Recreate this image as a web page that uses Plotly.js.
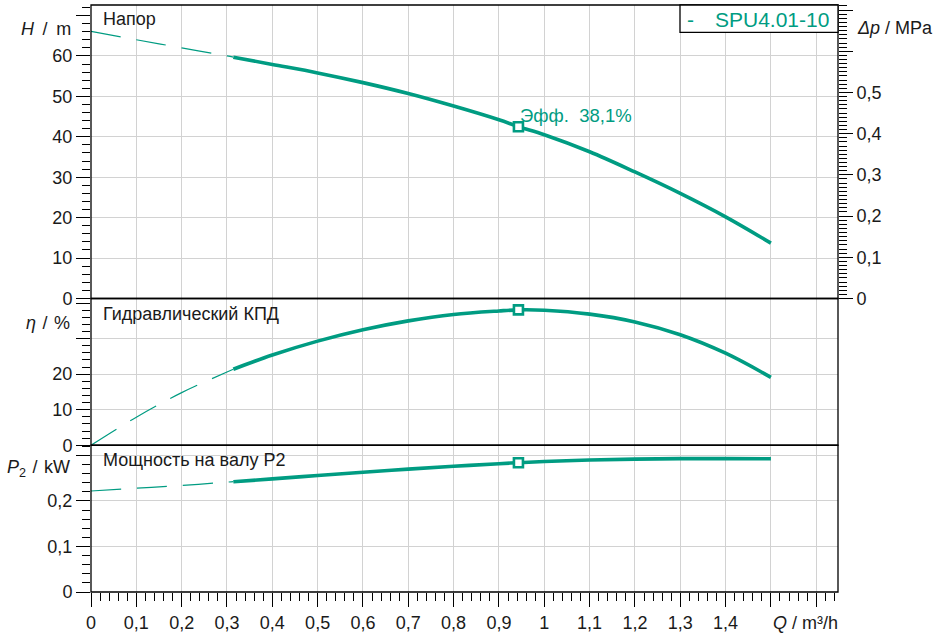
<!DOCTYPE html>
<html><head><meta charset="utf-8">
<script src="https://cdn.plot.ly/plotly-3.0.1.min.js"></script>
<style>body{margin:0;padding:0;background:#fff}#chart{width:933px;height:634px}</style>
</head><body><div id="chart"></div>
<script>
// ---- data ----
const flowDashed  = [0, 0.1, 0.2, 0.3, 0.314];
const headDashed  = [66.1, 64.0, 62.0, 60.0, 59.7];
const effDashed   = [0, 7.9, 14.8, 20.6, 21.4];
const powerDashed = [0.222, 0.228, 0.234, 0.2415, 0.2424];

const flow       = [0.314, 0.4, 0.5, 0.6, 0.7, 0.8, 0.9, 0.943, 1.0, 1.1, 1.2, 1.3, 1.4, 1.5];
const head       = [59.7, 57.9, 55.8, 53.4, 50.7, 47.6, 44.2, 42.5, 40.5, 36.3, 31.3, 26.0, 20.2, 13.7];
const efficiency = [21.4, 25.4, 29.3, 32.5, 35.0, 36.8, 37.8, 38.1, 38.0, 36.9, 34.7, 31.1, 25.9, 19.1];
const power      = [0.2424, 0.2485, 0.2560, 0.2632, 0.2700, 0.2763, 0.2820, 0.2842, 0.2867, 0.2900, 0.2920, 0.2930, 0.2932, 0.2927];

const dutyFlow  = [0.943];
const dutyHead  = [42.5];
const dutyEff   = [38.1];
const dutyPower = [0.2842];

const xTickVals = [0, 0.1, 0.2, 0.3, 0.4, 0.5, 0.6, 0.7, 0.8, 0.9, 1.0, 1.1, 1.2, 1.3, 1.4, 1.5, 1.6];
const xTickText = ["0", "0,1", "0,2", "0,3", "0,4", "0,5", "0,6", "0,7", "0,8", "0,9", "1", "1,1", "1,2", "1,3", "1,4", "", ""];
const hTickVals = [0, 10, 20, 30, 40, 50, 60];
const hTickText = ["0", "10", "20", "30", "40", "50", "60"];
const hExtraTicks = [70];
const pTickVals = [0, 0.1, 0.2, 0.3, 0.4, 0.5, 0.6, 0.7];
const pTickText = ["0", "0,1", "0,2", "0,3", "0,4", "0,5", "", ""];
const eTickVals = [0, 10, 20, 30];
const eTickText = ["0", "10", "20", ""];
const eExtraTicks = [40];
const wTickVals = [0, 0.1, 0.2, 0.3];
const wTickText = ["0", "0,1", "0,2", ""];

const seriesName = "SPU4.01-10";
const dutyLabel = "Эфф.\u00a0\u00a038,1%";
const MPA_PER_M = 0.00981;

// ---- style ----
const TEAL = "#009c82";
const FONT = "Liberation Sans, Arial, sans-serif";
const GRID = "#d2d2d2";
const HEAD_MAX = 72.6, EFF_MAX = 41.3, POW_MAX = 0.3225, Q_MAX = 1.648;

function solid(x, y, ya) {
  return {x: x, y: y, yaxis: ya, xaxis: "x", mode: "lines", type: "scatter",
    line: {color: TEAL, width: 3.6, shape: "spline", smoothing: 1}, hoverinfo: "skip", showlegend: false};
}
function dashed(x, y, ya) {
  return {x: x, y: y, yaxis: ya, xaxis: "x", mode: "lines", type: "scatter",
    line: {color: TEAL, width: 1.2, dash: "30px,16px", shape: "spline"}, hoverinfo: "skip", showlegend: false};
}
function duty(x, y, ya) {
  return {x: x, y: y, yaxis: ya, xaxis: "x", mode: "markers", type: "scatter",
    marker: {symbol: "square", size: 9, color: "#fff", line: {color: TEAL, width: 2.6}},
    hoverinfo: "skip", showlegend: false};
}
// invisible carrier traces so that the overlay axes (pressure scale, extra ticks) are drawn
function carrier(x, y, ya) {
  return {x: x, y: y, yaxis: ya, xaxis: "x", mode: "lines", type: "scatter",
    line: {color: "rgba(0,0,0,0)", width: 0}, hoverinfo: "skip", showlegend: false};
}

const data = [
  carrier(flow, head.map(h => h * MPA_PER_M), "y4"),
  carrier(flow, head, "y5"),
  carrier(flow, efficiency, "y6"),
  dashed(flowDashed, headDashed, "y"), solid(flow, head, "y"),
  dashed(flowDashed, effDashed, "y2"), solid(flow, efficiency, "y2"),
  dashed(flowDashed, powerDashed, "y3"), solid(flow, power, "y3"),
  duty(dutyFlow, dutyHead, "y"), duty(dutyFlow, dutyEff, "y2"), duty(dutyFlow, dutyPower, "y3")
];

const tickFont = {family: FONT, size: 18, color: "#1a1a1a"};
const minorTicks = d => ({tickmode: "linear", tick0: 0, dtick: d, ticks: "outside", ticklen: 8, tickwidth: 1, tickcolor: "#000", showgrid: false});
function yAxis(domain, range, vals, text, minorDtick) {
  return {domain: domain, range: range, anchor: "x", tickmode: "array", tickvals: vals, ticktext: text,
    ticks: "outside", ticklen: 14, tickwidth: 1, tickcolor: "#000", tickfont: tickFont,
    showgrid: true, gridcolor: GRID, gridwidth: 1, zeroline: false, showline: false,
    minor: minorTicks(minorDtick), fixedrange: true};
}
function extraAxis(over, range, vals) {
  return {overlaying: over, range: range, anchor: "x", side: "left", tickmode: "array", tickvals: vals,
    ticks: "outside", ticklen: 14, tickwidth: 1, tickcolor: "#000",
    showgrid: false, zeroline: false, showline: false, showticklabels: false, fixedrange: true};
}

function ann(text, x, y, xanchor, opts) {
  return Object.assign({text: text, x: x, y: y, xref: "paper", yref: "paper", xanchor: xanchor, yanchor: "middle",
    showarrow: false, font: {family: FONT, size: 18, color: "#1a1a1a"}}, opts || {});
}
const px = v => (v - 91) / 747;
const py = v => (592 - v) / 587;

const layout = {
  width: 933, height: 634,
  margin: {l: 91, r: 95, t: 5, b: 42, pad: 0},
  paper_bgcolor: "#fff", plot_bgcolor: "#fff",
  showlegend: false,
  xaxis: {domain: [0, 1], range: [0, Q_MAX], anchor: "y3", tickmode: "array", tickvals: xTickVals, ticktext: xTickText,
    ticks: "outside", ticklen: 14, tickwidth: 1, tickcolor: "#000", tickfont: tickFont,
    showgrid: true, gridcolor: GRID, gridwidth: 1, zeroline: false, showline: false,
    minor: minorTicks(0.02), fixedrange: true},
  yaxis:  yAxis([0.5, 1], [0, HEAD_MAX], hTickVals, hTickText, 2),
  yaxis2: yAxis([0.25, 0.5], [0, EFF_MAX], eTickVals, eTickText, 2),
  yaxis3: yAxis([0, 0.25], [0, POW_MAX], wTickVals, wTickText, 0.02),
  yaxis4: {overlaying: "y", side: "right", anchor: "x", range: [0, HEAD_MAX * MPA_PER_M], tickmode: "array",
    tickvals: pTickVals, ticktext: pTickText, ticks: "outside", ticklen: 14, tickwidth: 1, tickcolor: "#000",
    tickfont: tickFont, showgrid: false, zeroline: false, showline: false,
    minor: minorTicks(0.01), fixedrange: true},
  yaxis5: extraAxis("y", [0, HEAD_MAX], hExtraTicks),
  yaxis6: extraAxis("y2", [0, EFF_MAX], eExtraTicks),
  shapes: [
    {type: "rect", xref: "paper", yref: "y domain", x0: 0, x1: 1, y0: 0, y1: 1, line: {color: "#000", width: 1.3}, layer: "above"},
    {type: "rect", xref: "paper", yref: "y2 domain", x0: 0, x1: 1, y0: 0, y1: 1, line: {color: "#000", width: 1.3}, layer: "above"},
    {type: "rect", xref: "paper", yref: "y3 domain", x0: 0, x1: 1, y0: 0, y1: 1, line: {color: "#000", width: 1.3}, layer: "above"},
    {type: "rect", xref: "paper", yref: "paper", x0: px(680), x1: 1, y0: py(32.3), y1: 1, fillcolor: "#fff", line: {color: "#000", width: 1.3}, layer: "above"}
  ],
  annotations: [
    ann("Напор", px(101), py(19), "left"),
    ann("Гидравлический КПД", px(101), py(313.5), "left"),
    ann("Мощность на валу P2", px(101), py(460), "left"),
    ann("<i>H</i>\u2009 / \u2009m", px(73), py(29), "right"),
    ann("<i>η</i>\u200a / \u200a%", px(72), py(323), "right"),
    ann("<i>P</i><sub>2</sub>\u200a / \u200akW", px(72), py(469), "right"),
    ann("<i>Δp</i> / MPa", px(855), py(28), "left"),
    ann("<i>Q</i> / m³/h", px(840), py(622.5), "right"),
    ann("-", px(685), py(19), "left", {font: {family: FONT, size: 21, color: TEAL}}),
    ann(seriesName, px(713), py(19), "left", {font: {family: FONT, size: 21, color: TEAL}}),
    {text: dutyLabel, x: dutyFlow[0], y: dutyHead[0], xref: "x", yref: "y", xanchor: "left", yanchor: "middle",
     xshift: 0, yshift: 11, showarrow: false, font: {family: FONT, size: 18.5, color: TEAL}}
  ]
};

Plotly.newPlot("chart", data, layout, {staticPlot: true, displayModeBar: false});
</script>
</body></html>
